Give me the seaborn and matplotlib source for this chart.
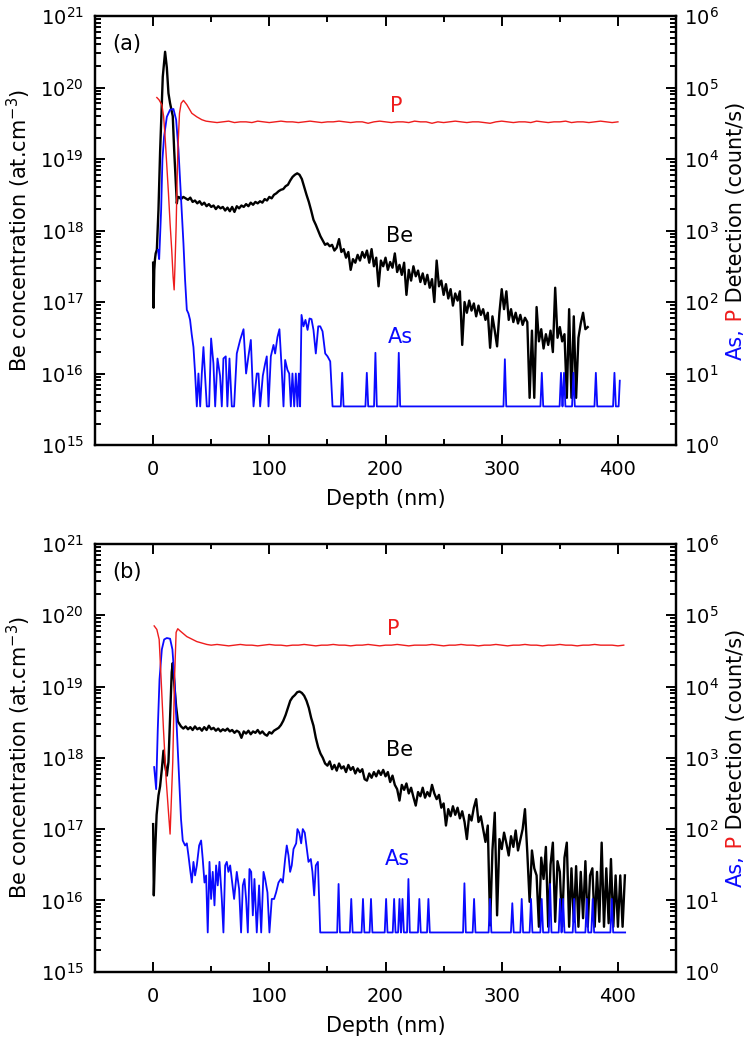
import numpy as np
import matplotlib
matplotlib.use("Agg")
import matplotlib.pyplot as plt
from matplotlib.ticker import FixedLocator, NullLocator
import seaborn as sns

# all values below are log10 numbers
# Be in at.cm-3 (left axis), As and P in count/s (right axis)

# ---------------- panel (a) ----------------
be_a_head_depth = [0.0, 0.4, 1.0, 1.6, 2.2, 3.2, 4.6, 6.0, 7.5, 8.3, 10.3,
                   11.8, 13.2, 14.6, 16.9, 18.1, 19.5, 20.4, 21.0, 22.0]
be_a_head_log = [17.55, 16.92, 17.45, 17.60, 17.68, 17.73, 18.29, 19.10, 19.78, 20.15, 20.50,
                 20.28, 19.92, 19.78, 19.60, 19.13, 18.66, 18.38, 18.45, 18.47]
# every 2 nm from 24 nm
be_a_tail_log = [
    18.44, 18.47, 18.45, 18.43, 18.46, 18.40, 18.42, 18.38, 18.41, 18.36,  # 24
    18.39, 18.34, 18.37, 18.33, 18.35, 18.30, 18.34, 18.31, 18.33, 18.28,  # 44
    18.32, 18.27, 18.33, 18.26, 18.34, 18.31, 18.35, 18.33, 18.37, 18.34,  # 64
    18.39, 18.36, 18.40, 18.38, 18.41, 18.39, 18.44, 18.42, 18.47, 18.45,  # 84
    18.50, 18.52, 18.55, 18.57, 18.58, 18.62, 18.64, 18.70, 18.75, 18.78,  # 104
    18.80, 18.78, 18.72, 18.61, 18.50, 18.40, 18.28, 18.15, 18.08, 18.00,  # 124
    17.92, 17.86, 17.80, 17.82, 17.78, 17.80, 17.72, 17.76, 17.88, 17.70,  # 144
    17.74, 17.62, 17.70, 17.45, 17.60, 17.55, 17.66, 17.58, 17.70, 17.62,  # 164
    17.72, 17.55, 17.74, 17.50, 17.62, 17.22, 17.58, 17.50, 17.62, 17.45,  # 184
    17.56, 17.48, 17.68, 17.42, 17.52, 17.38, 17.55, 17.10, 17.45, 17.30,  # 204
    17.50, 17.36, 17.44, 17.28, 17.40, 17.25, 17.38, 17.20, 17.32, 17.00,  # 224
    17.58, 17.22, 17.30, 17.10, 17.25, 17.05, 17.18, 16.95, 17.12, 17.02,  # 244
    17.15, 16.40, 17.00, 16.85, 17.02, 16.88, 16.98, 16.80, 16.95, 16.82,  # 264
    16.90, 16.75, 16.85, 16.36, 16.80, 16.60, 16.38, 16.85, 17.18, 16.90,  # 284
    17.15, 16.75, 16.90, 16.72, 16.85, 16.70, 16.82, 16.68, 16.78, 16.72,  # 304
    15.66, 16.60, 15.66, 16.93, 16.45, 16.62, 16.35, 16.55, 16.40, 16.60,  # 324
    16.30, 17.20, 16.50, 16.65, 16.45, 16.55, 15.66, 16.90, 15.66, 16.80,  # 344
    15.66, 16.50, 16.70, 16.85, 16.62, 16.65,                              # 364
]

p_a_head_depth = [3.2, 5.0, 7.5, 9.0, 10.3, 11.8, 13.2, 14.6, 16.0, 17.2, 18.1, 18.8,
                  19.8, 20.5, 21.3, 22.7, 24.1, 26.1, 29.0, 33.3, 37.6, 41.9, 45.5]
p_a_head_log = [4.86, 4.83, 4.76, 4.60, 4.31, 3.90, 3.52, 3.10, 2.73, 2.35, 2.17, 2.50,
                3.05, 3.60, 4.13, 4.64, 4.78, 4.82, 4.76, 4.64, 4.59, 4.55, 4.53]
# every 5 nm from 50 nm
p_a_tail_log = [
    4.52, 4.51, 4.52, 4.53, 4.51, 4.52, 4.52, 4.51, 4.53, 4.52,
    4.51, 4.52, 4.53, 4.52, 4.52, 4.51, 4.52, 4.53, 4.52, 4.51,
    4.52, 4.52, 4.53, 4.52, 4.51, 4.52, 4.52, 4.50, 4.52, 4.53,
    4.52, 4.51, 4.52, 4.52, 4.51, 4.53, 4.52, 4.52, 4.50, 4.52,
    4.51, 4.52, 4.53, 4.52, 4.51, 4.52, 4.52, 4.51, 4.50, 4.52,
    4.53, 4.52, 4.51, 4.52, 4.52, 4.51, 4.53, 4.52, 4.51, 4.52,
    4.52, 4.53, 4.51, 4.52, 4.52, 4.51, 4.52, 4.53, 4.52, 4.51,
    4.52,
]

as_a_depth = [
    4.2, 5.2, 6.9, 8.0, 9.4, 11.8, 14.6, 17.5, 19.8, 21.8,
    23.8, 26.1, 27.5, 29.0, 30.4, 31.8, 33.2, 34.7, 36.1, 37.6,
    39.0, 40.5, 41.9, 43.3, 44.7, 46.2, 48.2, 49.9, 51.9, 53.4,
    55.4, 57.6, 59.1, 60.5, 62.5, 63.9, 65.7, 67.7, 69.7, 72.0,
    74.9, 77.8, 80.0, 82.0, 84.1, 86.4, 89.2, 90.7, 92.1, 94.4,
    96.4, 97.8, 99.3, 101.3, 103.6, 105.0, 107.0, 108.7, 110.7, 112.2,
    113.6, 115.6, 117.1, 118.5, 119.9, 121.4, 122.8, 124.2, 125.4, 126.5,
    127.7, 129.4, 131.1, 132.9, 134.6, 136.3, 138.0, 140.0, 142.1, 143.8,
    145.8, 148.1, 150.1, 152.4, 154.4,
]
as_a_log = [
    2.73, 2.60, 3.29, 3.99, 4.31, 4.59, 4.69, 4.70, 4.55, 4.13,
    3.52, 2.82, 2.31, 1.89, 1.84, 1.75, 1.55, 1.37, 1.01, 0.54,
    1.00, 0.54, 1.00, 1.37, 0.97, 0.54, 0.54, 1.49, 1.14, 0.54,
    1.21, 0.97, 0.54, 1.21, 1.24, 0.54, 1.21, 0.54, 0.54, 1.28,
    1.47, 1.62, 1.00, 1.24, 1.47, 0.54, 1.00, 1.00, 0.54, 0.97,
    1.14, 1.24, 0.54, 1.24, 1.40, 1.28, 1.51, 1.62, 1.05, 0.54,
    1.19, 1.05, 1.00, 0.54, 1.00, 0.54, 1.00, 0.54, 1.00, 0.54,
    1.82, 1.66, 1.75, 1.61, 1.77, 1.76, 1.61, 1.28, 1.66, 1.66,
    1.59, 1.28, 1.24, 1.17, 0.54,
]
as_a_floor = 0.54
as_a_spike_depth = [162.7, 183.9, 191.3, 211.4, 302.7, 334.5, 351.0, 353.6, 361.7, 381.0, 397.0]
as_a_spike_log = [1.01, 1.01, 1.29, 1.29, 1.20, 1.01, 1.01, 1.01, 1.01, 1.01, 1.01]
as_a_end_depth = [400.6, 401.6]
as_a_end_log = [0.54, 0.90]

# ---------------- panel (b) ----------------
be_b_head_depth = [0.0, 0.3, 0.6, 1.5, 3.0, 4.6, 6.0, 7.5, 8.9, 10.3,
                   11.8, 13.2, 14.6, 16.0, 16.9, 18.4, 19.8, 21.3]
be_b_head_log = [17.07, 16.60, 16.07, 16.60, 17.20, 17.47, 17.60, 17.84, 18.10, 17.90,
                 17.75, 17.94, 18.55, 19.20, 19.33, 19.00, 18.72, 18.51]
be_b_tail_log = [
    18.44, 18.41, 18.44, 18.40, 18.43, 18.39, 18.44, 18.40, 18.42, 18.38,  # 24
    18.43, 18.39, 18.45, 18.40, 18.42, 18.38, 18.41, 18.37, 18.40, 18.38,  # 44
    18.41, 18.37, 18.39, 18.35, 18.38, 18.36, 18.28, 18.37, 18.34, 18.38,  # 64
    18.33, 18.37, 18.35, 18.39, 18.34, 18.37, 18.33, 18.31, 18.36, 18.34,  # 84
    18.38, 18.40, 18.42, 18.46, 18.52, 18.60, 18.70, 18.80, 18.85, 18.88,  # 104
    18.92, 18.93, 18.91, 18.87, 18.80, 18.70, 18.56, 18.45, 18.28, 18.15,  # 124
    18.06, 18.00, 17.92, 17.89, 17.95, 17.84, 17.90, 17.82, 17.92, 17.85,  # 144
    17.88, 17.80, 17.90, 17.83, 17.87, 17.78, 17.85, 17.80, 17.84, 17.70,  # 164
    17.68, 17.78, 17.72, 17.80, 17.74, 17.82, 17.76, 17.83, 17.74, 17.80,  # 184
    17.66, 17.75, 17.62, 17.56, 17.40, 17.62, 17.55, 17.64, 17.50, 17.58,  # 204
    17.45, 17.33, 17.52, 17.46, 17.58, 17.44, 17.52, 17.46, 17.62, 17.50,  # 224
    17.42, 17.48, 17.30, 17.36, 17.05, 17.28, 17.18, 17.32, 17.20, 17.30,  # 244
    17.15, 17.25, 17.10, 16.86, 17.20, 17.12, 17.30, 17.42, 17.10, 17.18,  # 264
    17.00, 16.82, 17.05, 15.65, 16.70, 17.23, 15.79, 16.86, 16.72, 16.95,  # 284
    16.80, 16.63, 16.90, 16.75, 16.98, 16.70, 16.85, 17.00, 17.28, 16.67,  # 304
    15.98, 16.70, 16.45, 16.35, 15.63, 16.60, 16.30, 16.75, 15.63, 16.50,  # 324
    16.81, 15.70, 16.55, 16.40, 15.63, 16.60, 16.81, 15.63, 16.45, 15.70,  # 344
    16.48, 15.63, 16.40, 15.75, 16.55, 15.63, 16.35, 16.45, 15.63, 16.40,  # 364
    15.70, 16.81, 15.63, 16.45, 15.68, 16.58, 15.63, 16.35, 15.63, 16.35,  # 384
    15.63, 16.35,                                                          # 404
]

p_b_head_depth = [0.9, 3.2, 5.2, 6.9, 8.9, 11.2, 13.2, 14.6, 16.9, 18.4, 19.8, 21.2,
                  23.2, 29.0, 37.6, 46.2]
p_b_head_log = [4.85, 4.80, 4.66, 4.10, 3.40, 2.70, 2.24, 1.93, 2.94, 4.10, 4.76, 4.81,
                4.78, 4.70, 4.63, 4.59]
p_b_tail_log = [
    4.58, 4.59, 4.58, 4.57, 4.58, 4.59, 4.58, 4.58, 4.57, 4.58,
    4.59, 4.58, 4.58, 4.57, 4.58, 4.58, 4.59, 4.58, 4.57, 4.58,
    4.58, 4.59, 4.58, 4.58, 4.57, 4.58, 4.58, 4.59, 4.58, 4.57,
    4.58, 4.58, 4.59, 4.58, 4.57, 4.58, 4.58, 4.58, 4.59, 4.58,
    4.57, 4.58, 4.58, 4.59, 4.58, 4.58, 4.57, 4.58, 4.58, 4.59,
    4.58, 4.57, 4.58, 4.58, 4.59, 4.58, 4.58, 4.57, 4.58, 4.58,
    4.59, 4.58, 4.58, 4.57, 4.58, 4.58, 4.59, 4.58, 4.58, 4.58,
    4.57, 4.58,
]

as_b_depth = [
    0.9, 2.6, 4.0, 5.5, 7.5, 9.5, 11.8, 14.6, 16.6, 18.4,
    20.4, 22.4, 24.0, 25.5, 27.5, 29.0, 30.4, 31.8, 33.3, 34.7,
    36.1, 37.6, 39.6, 41.3, 42.7, 44.2, 45.6, 47.0, 48.5, 49.9,
    51.3, 52.8, 54.2, 55.6, 57.1, 59.1, 60.5, 62.0, 63.4, 64.8,
    66.3, 67.7, 69.7, 72.0, 74.0, 75.7, 77.2, 78.6, 80.0, 81.5,
    82.9, 84.4, 85.8, 87.2, 89.2, 91.2, 93.0, 95.0, 96.4, 98.4,
    100.1, 102.1, 104.1, 105.8, 107.9, 109.9, 111.6, 113.6, 115.0, 116.5,
    117.9, 119.3, 120.8, 123.1, 124.2, 125.7, 127.4, 128.8, 130.5, 132.3,
    133.7, 135.7, 137.1, 138.6, 140.0, 141.8, 143.8,
]
as_b_log = [
    2.87, 2.56, 3.40, 4.10, 4.52, 4.66, 4.68, 4.67, 4.52, 4.10,
    3.40, 2.70, 2.14, 1.84, 1.77, 1.80, 1.63, 1.44, 1.25, 1.54,
    1.35, 1.49, 1.77, 1.84, 1.58, 1.25, 1.35, 0.55, 1.54, 1.02,
    1.40, 0.93, 1.49, 1.21, 1.54, 1.02, 0.55, 1.49, 1.54, 1.40,
    1.49, 1.30, 1.02, 1.40, 1.16, 0.55, 1.21, 1.30, 1.02, 0.55,
    1.44, 1.40, 0.79, 1.30, 0.55, 1.21, 0.55, 1.40, 1.30, 1.11,
    0.55, 1.02, 1.02, 1.11, 1.25, 1.30, 1.25, 1.58, 1.77, 1.63,
    1.40, 1.49, 1.72, 1.80, 2.00, 1.95, 1.80, 2.00, 1.95, 1.72,
    1.54, 1.58, 1.40, 1.07, 1.49, 1.54, 0.55,
]
as_b_floor = 0.55
as_b_spike_depth = [159.6, 170.5, 180.6, 187.5, 200.5, 207.4, 212.0, 214.6, 219.7, 229.1,
                    236.9, 267.9, 276.2, 289.9, 309.1, 317.2, 325.2, 334.4, 341.6, 350.2,
                    352.8, 362.3, 373.2, 378.3, 394.7]
as_b_spike_log = [1.23, 1.02, 1.02, 1.02, 1.02, 1.02, 1.02, 1.02, 1.30, 1.02,
                  1.02, 1.24, 1.02, 1.02, 0.96, 1.02, 1.02, 1.02, 1.23, 1.02,
                  1.02, 1.02, 1.02, 1.02, 1.02]
as_b_end_depth = [406.2]
as_b_end_log = [0.55]


def profile(head_d, head_v, start, step, tail_v):
    d = np.concatenate([head_d, start + step * np.arange(len(tail_v))])
    return d, 10 ** np.concatenate([head_v, tail_v])


def with_spikes(d, v, floor, spike_d, spike_v, end_d, end_v):
    d, v = list(d), list(v)
    for c, h in zip(spike_d, spike_v):
        d += [c - 1.2, c, c + 1.2]
        v += [floor, h, floor]
    d += end_d
    v += end_v
    return np.array(d), 10 ** np.array(v)


plt.rcParams["font.family"] = ["DejaVu Sans"]
plt.rcParams["mathtext.default"] = "regular"

fig = plt.figure(figsize=(7.47, 10.41), dpi=100)
renderer = fig.canvas.get_renderer()

BLUE = "#0a0aff"
RED = "#ee1c1c"

# tick positions (depth in nm, Be in at.cm-3, counts); the right axis decades line up
x_major = np.arange(0, 401, 100)
x_minor = x_major[:-1] + 50
y_major = 10.0 ** np.arange(15, 22)
y_minor = [k * 10.0 ** e for e in range(15, 21) for k in range(2, 10)]
count_major = 10.0 ** np.arange(0, 7)


def right_label(ax, parts, x, size):
    # three coloured pieces stacked along the right side, centred on the axes
    texts = [ax.text(x, 0.5, s, color=c, fontsize=size, rotation=90, ha="center",
                     va="bottom", transform=ax.transAxes) for s, c in parts]
    hs = [t.get_window_extent(renderer).height for t in texts]
    bb = ax.get_window_extent(renderer)
    y = bb.y0 + (bb.height - sum(hs)) / 2
    for t, h in zip(texts, hs):
        t.set_y((y - bb.y0) / bb.height)
        y += h


def inward_ticks(ax):
    # tick marks drawn as short segments pointing into the frame on all four sides
    kw = dict(color="black", lw=1.4, solid_capstyle="butt", clip_on=False, zorder=3)
    w, h = ax.bbox.width, ax.bbox.height
    xt, yt = ax.get_xaxis_transform(), ax.get_yaxis_transform()
    for vals, pt in ((x_major, 7), (x_minor, 4)):
        f = pt * fig.dpi / 72 / h
        for xv in vals:
            ax.plot([xv, xv], [0, f], transform=xt, **kw)
            ax.plot([xv, xv], [1 - f, 1], transform=xt, **kw)
    for vals, pt in ((y_major, 7), (y_minor, 4)):
        f = pt * fig.dpi / 72 / w
        for yv in vals:
            ax.plot([0, f], [yv, yv], transform=yt, **kw)
            ax.plot([1 - f, 1], [yv, yv], transform=yt, **kw)


def draw_panel(rect, tag, be, p, arsenic, notes):
    ax = fig.add_axes(rect)
    ax2 = ax.twinx()
    ax.set_yscale("log")
    ax2.set_yscale("log")

    sns.lineplot(x=be[0], y=be[1], ax=ax, color="black", lw=1.7,
                 estimator=None, sort=False, legend=False)
    sns.lineplot(x=arsenic[0], y=arsenic[1], ax=ax2, color=BLUE, lw=1.3,
                 estimator=None, sort=False, legend=False)
    sns.lineplot(x=p[0], y=p[1], ax=ax2, color=RED, lw=1.0,
                 estimator=None, sort=False, legend=False)

    ax.set_xlim(-50, 450)
    ax.set_ylim(1e15, 1e21)
    ax2.set_ylim(1, 1e6)
    # labels only at the values inside the frame
    ax.xaxis.set_major_locator(FixedLocator(x_major))
    ax.xaxis.set_minor_locator(NullLocator())
    ax.yaxis.set_major_locator(FixedLocator(y_major))
    ax.yaxis.set_minor_locator(NullLocator())
    ax2.yaxis.set_major_locator(FixedLocator(count_major))
    ax2.yaxis.set_minor_locator(NullLocator())
    inward_ticks(ax)

    for a in (ax, ax2):
        for s in a.spines.values():
            s.set_linewidth(1.6)
            s.set_color("black")
    ax.tick_params(axis="x", which="both", length=0, labelsize=14, pad=11)
    ax.tick_params(axis="y", which="both", length=0, labelsize=14, pad=8)
    ax2.tick_params(axis="y", which="both", length=0, labelsize=14, pad=6)

    ax.set_xlabel("Depth (nm)", fontsize=15, labelpad=7)
    ax.set_ylabel("Be concentration (at.cm$^{-3}$)", fontsize=15)
    ax.yaxis.set_label_coords(-0.107, 0.5)

    ax.text(0.029, 0.935, tag, transform=ax.transAxes, fontsize=15,
            ha="left", va="center")
    for txt, col, xy in notes:
        ax.text(xy[0], 10 ** xy[1], txt, color=col, fontsize=15, ha="center", va="center")
    right_label(ax2, [("As,", BLUE), (" P", RED), (" Detection (count/s)", "black")],
                1.103, 15)


be_a = profile(be_a_head_depth, be_a_head_log, 24, 2, be_a_tail_log)
p_a = profile(p_a_head_depth, p_a_head_log, 50, 5, p_a_tail_log)
as_a = with_spikes(as_a_depth, as_a_log, as_a_floor, as_a_spike_depth, as_a_spike_log,
                   as_a_end_depth, as_a_end_log)
be_b = profile(be_b_head_depth, be_b_head_log, 24, 2, be_b_tail_log)
p_b = profile(p_b_head_depth, p_b_head_log, 50, 5, p_b_tail_log)
as_b = with_spikes(as_b_depth, as_b_log, as_b_floor, as_b_spike_depth, as_b_spike_log,
                   as_b_end_depth, as_b_end_log)

notes_a = [("P", RED, (209, 19.74)), ("Be", "black", (212, 17.92)),
           ("As", BLUE, (212.6, 16.51))]
notes_b = [("P", RED, (207, 19.81)), ("Be", "black", (212, 18.11)),
           ("As", BLUE, (210, 16.58))]

draw_panel([0.1272, 0.5725, 0.7778, 0.4121], "(a)", be_a, p_a, as_a, notes_a)
draw_panel([0.1272, 0.0666, 0.7778, 0.4109], "(b)", be_b, p_b, as_b, notes_b)

fig.savefig("out.png", dpi=100, facecolor="white")
